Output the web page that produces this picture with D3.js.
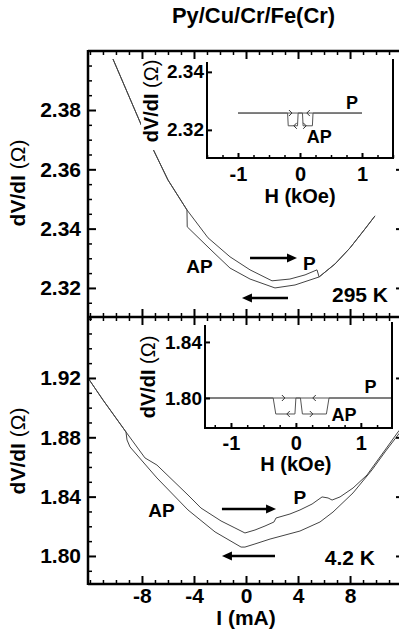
<!DOCTYPE html>
<html><head><meta charset="utf-8">
<script src="https://cdn.jsdelivr.net/npm/d3@7"></script>
<style>
body{margin:0;background:#fff}
svg{display:block}
text{font-family:"Liberation Sans",Arial,sans-serif;font-weight:bold;fill:#000}
</style>
</head><body>
<script>
// ---------- data ----------
const chartTitle = "Py/Cu/Cr/Fe(Cr)";
const currentTicks = [-8, -4, 0, 4, 8];
const fieldTicks = [-1, 0, 1];
const rtTicks = [2.32, 2.34, 2.36, 2.38];
const lowTicks = [1.80, 1.84, 1.88, 1.92];
const rtInsetTicks = [2.32, 2.34];
const lowInsetTicks = [1.80, 1.84];

// 295 K current sweeps
const rtCurrentP = [-10.23, -7.92, -7.08, -6.0, -4.54, -2.92, -1.23, 0.31, 2.0, 3.38, 4.54, 5.46, 5.62, 6.85, 8.0, 9.15, 9.92];
const rtResP     = [2.3972, 2.3736, 2.3662, 2.3564, 2.3463, 2.3369, 2.3305, 2.3261, 2.3224, 2.3230, 2.3244, 2.3261, 2.3237, 2.3281, 2.3335, 2.3399, 2.3443];
const rtCurrentAP = [-10.23, -7.92, -7.08, -6.0, -4.54, -4.52, -2.69, -1.23, 0.31, 2.23, 3.77, 5.62, 6.85, 8.0, 9.15, 9.92];
const rtResAP     = [2.3972, 2.3736, 2.3662, 2.3564, 2.3463, 2.3406, 2.3328, 2.3267, 2.3230, 2.3200, 2.3210, 2.3237, 2.3281, 2.3335, 2.3399, 2.3443];

// 4.2 K current sweeps
const lowCurrentP = [-12.15, -11.0, -9.23, -7.77, -6.85, -4.46, -3.46, -1.92, -0.85, -0.08, 0.69, 1.46, 2.15, 2.31, 3.38, 4.15, 5.08, 5.85, 6.31, 6.62, 7.23, 8.23, 9.31, 9.69, 10.69, 11.69, 12.15];
const lowResP     = [1.9200, 1.9052, 1.8836, 1.8661, 1.8613, 1.8411, 1.8323, 1.8236, 1.8189, 1.8155, 1.8175, 1.8202, 1.8229, 1.8256, 1.8283, 1.8310, 1.8350, 1.8398, 1.8391, 1.8377, 1.8398, 1.8458, 1.8546, 1.8593, 1.8714, 1.8836, 1.8883];
const lowCurrentAP = [-12.15, -11.0, -9.23, -9.15, -8.92, -6.85, -4.46, -2.38, -0.38, -0.08, 0.69, 1.85, 4.15, 5.69, 6.69, 8.23, 9.69, 10.69, 11.69, 12.15];
const lowResAP     = [1.9200, 1.9052, 1.8836, 1.8782, 1.8735, 1.8526, 1.8310, 1.8162, 1.8060, 1.8060, 1.8081, 1.8114, 1.8168, 1.8229, 1.8296, 1.8425, 1.8580, 1.8701, 1.8816, 1.8863];

// insets: field sweeps
const rtFieldUp   = [-1, 0.04, 0.05, 0.20, 0.21, 1];
const rtFieldDown = [1, -0.03, -0.04, -0.19, -0.20, -1];
const rtFieldRes  = [2.3258, 2.3258, 2.3214, 2.3214, 2.3258, 2.3258];
const lowFieldUp   = [-1.4, 0.07, 0.10, 0.47, 0.51, 1.48];
const lowFieldDown = [1.48, 0.0, -0.015, -0.31, -0.35, -1.4];
const lowFieldRes  = [1.80, 1.80, 1.7886, 1.7886, 1.80, 1.80];

// ---------- layout ----------
const W = 399, H = 633;
const svg = d3.select("body").append("svg").attr("width", W).attr("height", H);
const ink = "#000";
const line = "#444";

const x = d3.scaleLinear().domain([-12.15, 12.15]).range([88, 404]);
const yTop = d3.scaleLinear().domain([2.3102, 2.3999]).range([317, 51]);
const yBot = d3.scaleLinear().domain([1.7811, 1.9611]).range([584, 317]);

const xInT = d3.scaleLinear().domain([-1.5, 1.5]).range([207, 393]);
const yInT = d3.scaleLinear().domain([2.3103, 2.3434]).range([158, 62]);
const xInB = d3.scaleLinear().domain([-1.4, 1.48]).range([205, 392]);
const yInB = d3.scaleLinear().domain([1.7786, 1.8521]).range([428, 325]);

function zip(a, b) { return a.map((v, i) => [v, b[i]]); }
function drawCurve(g, xs, ys, X, Y, color, w) {
  g.append("path").datum(zip(xs, ys))
    .attr("d", d3.line().x(d => X(d[0])).y(d => Y(d[1])))
    .attr("fill", "none").attr("stroke", color).attr("stroke-width", w);
}
function styleAxis(sel, w) {
  sel.select(".domain").remove();
  sel.selectAll(".tick line").attr("stroke", ink).attr("stroke-width", w);
  sel.selectAll(".tick text").attr("fill", ink).style("font-family", '"Liberation Sans",Arial,sans-serif').style("font-weight", "bold");
}
function minorVals(lo, hi, step, majors) {
  const out = [];
  for (let v = Math.ceil(lo / step - 1e-9) * step; v <= hi + 1e-9; v += step) {
    const r = Math.round(v * 10000) / 10000;
    if (!majors.some(m => Math.abs(m - r) < 1e-6)) out.push(r);
  }
  return out;
}

// ---------- main curves ----------
const gc = svg.append("g");
drawCurve(gc, rtCurrentP, rtResP, x, yTop, line, 1);
drawCurve(gc, rtCurrentAP, rtResAP, x, yTop, line, 1);
drawCurve(gc, lowCurrentP, lowResP, x, yBot, line, 1);
drawCurve(gc, lowCurrentAP, lowResAP, x, yBot, line, 1);

// ---------- main axes ----------
const xMinor = minorVals(-12, 12, 1, currentTicks);
function xAxes(y, orientTop, labels) {
  const ax = orientTop ? d3.axisTop(x) : d3.axisBottom(x);
  const g1 = svg.append("g").attr("transform", `translate(0,${y})`)
    .call(ax.tickValues(currentTicks).tickSize(-8).tickPadding(6).tickFormat(labels ? (d => String(d)) : ""));
  styleAxis(g1, 2);
  if (labels) g1.selectAll(".tick text").style("font-size", "21px").attr("y", 19).attr("dy", 0);
  const ax2 = orientTop ? d3.axisTop(x) : d3.axisBottom(x);
  styleAxis(svg.append("g").attr("transform", `translate(0,${y})`)
    .call(ax2.tickValues(xMinor).tickSize(-4).tickFormat("")), 1.5);
}
xAxes(51, true, false);
xAxes(317, false, false);
xAxes(317, true, false);
xAxes(584, false, true);

function yAxes(Y, ticks, minorStep, lo, hi) {
  const gl = svg.append("g").attr("transform", "translate(88,0)")
    .call(d3.axisLeft(Y).tickValues(ticks).tickSize(-8).tickPadding(7).tickFormat(d3.format(".2f")));
  styleAxis(gl, 2);
  gl.selectAll(".tick text").style("font-size", "21px");
  const mv = minorVals(lo, hi, minorStep, ticks);
  styleAxis(svg.append("g").attr("transform", "translate(88,0)")
    .call(d3.axisLeft(Y).tickValues(mv).tickSize(-4).tickFormat("")), 1.5);
  styleAxis(svg.append("g").attr("transform", "translate(404,0)")
    .call(d3.axisRight(Y).tickValues(ticks).tickSize(-8).tickFormat("")), 2);
  styleAxis(svg.append("g").attr("transform", "translate(404,0)")
    .call(d3.axisRight(Y).tickValues(mv).tickSize(-4).tickFormat("")), 1.5);
}
yAxes(yTop, rtTicks, 0.005, 2.311, 2.399);
yAxes(yBot, lowTicks, 0.01, 1.782, 1.96);

// frame
const fr = svg.append("g").attr("stroke", ink).attr("fill", "none");
fr.append("line").attr("x1", 88).attr("x2", 404).attr("y1", 51).attr("y2", 51).attr("stroke-width", 2.5);
fr.append("line").attr("x1", 88).attr("x2", 404).attr("y1", 317).attr("y2", 317).attr("stroke-width", 2.5);
fr.append("line").attr("x1", 88).attr("x2", 404).attr("y1", 584).attr("y2", 584).attr("stroke-width", 2.5);
fr.append("line").attr("x1", 88).attr("x2", 88).attr("y1", 50).attr("y2", 585).attr("stroke-width", 2.5);

// ---------- main annotations ----------
function bigArrow(X, Y, x1, x2, yv) {
  const a = X(x1), b = X(x2), yy = Y(yv), dir = Math.sign(b - a);
  svg.append("line").attr("x1", a).attr("x2", b - dir * 8).attr("y1", yy).attr("y2", yy)
    .attr("stroke", ink).attr("stroke-width", 2.6);
  svg.append("path").attr("d", `M${b},${yy} L${b - dir * 10},${yy - 4.5} L${b - dir * 10},${yy + 4.5} Z`).attr("fill", ink);
}
bigArrow(x, yTop, 0.31, 3.92, 2.3301);
bigArrow(x, yTop, 3.23, -0.31, 2.3166);
bigArrow(x, yBot, -1.85, 2.31, 1.8317);
bigArrow(x, yBot, 2.23, -1.85, 1.8000);

function label(txt, px, py, size, anchor) {
  return svg.append("text").attr("x", px).attr("y", py).attr("text-anchor", anchor || "middle")
    .style("font-size", size + "px").text(txt);
}
label("AP", x(-3.58), yTop(2.3251), 19);
label("P", x(4.88), yTop(2.3261), 19);
label("295 K", x(10.92), yTop(2.3153), 21, "end");
label("AP", x(-6.5), yBot(1.8263), 19);
label("P", x(4.15), yBot(1.8350), 19);
label("4.2 K", x(9.92), yBot(1.7939), 21, "end");

label(chartTitle, 253.5, 23, 22).attr("textLength", 163).attr("lengthAdjust", "spacingAndGlyphs");
label("I (mA)", x(0), 625, 21);

function yLabel(cx, cy, size) {
  const t = svg.append("text").attr("transform", `translate(${cx},${cy}) rotate(-90)`)
    .attr("text-anchor", "middle").style("font-size", size + "px");
  t.append("tspan").text("dV/dI ");
  t.append("tspan").style("font-weight", "normal").text("(\u03A9)");
}
yLabel(25, 183, 21);
yLabel(25, 451, 21);

// ---------- insets ----------
svg.append("rect").attr("x", 141).attr("y", 60).attr("width", 258).attr("height", 90).attr("fill", "#fff");

function inset(X, Y, yt, upF, downF, res, left, right, top, bottom, arrows, pLab, apLab, labelBase, hBase, ylab) {
  const g = svg.append("g");
  drawCurve(g, upF, res, X, Y, "#555", 1);
  drawCurve(g, downF, res, X, Y, "#555", 1);
  arrows.forEach(a => {
    const px = X(a[0]), py = Y(a[1]), d = a[2];
    g.append("path").attr("d", `M${px - d * 3},${py - 3} L${px},${py} L${px - d * 3},${py + 3}`)
      .attr("fill", "none").attr("stroke", "#333").attr("stroke-width", 1);
  });
  const gb = svg.append("g").attr("transform", `translate(0,${bottom})`)
    .call(d3.axisBottom(X).tickValues(fieldTicks).tickSize(-5).tickPadding(0).tickFormat(d => String(d)));
  styleAxis(gb, 2);
  gb.selectAll(".tick text").style("font-size", "20px").attr("y", labelBase - bottom).attr("dy", 0);
  const fmin = minorVals(X.domain()[0], X.domain()[1], 0.25, fieldTicks);
  styleAxis(svg.append("g").attr("transform", `translate(0,${bottom})`)
    .call(d3.axisBottom(X).tickValues(fmin).tickSize(-3).tickFormat("")), 1.5);
  const gl = svg.append("g").attr("transform", `translate(${left},0)`)
    .call(d3.axisLeft(Y).tickValues(yt).tickSize(-5).tickPadding(3).tickFormat(d3.format(".2f")));
  styleAxis(gl, 2);
  gl.selectAll(".tick text").style("font-size", "19px");
  const fr2 = svg.append("g").attr("stroke", ink).attr("stroke-width", 2);
  fr2.append("line").attr("x1", left).attr("x2", left).attr("y1", top).attr("y2", bottom + 1);
  fr2.append("line").attr("x1", right).attr("x2", right).attr("y1", top - 3).attr("y2", bottom + 1);
  fr2.append("line").attr("x1", left).attr("x2", right).attr("y1", bottom).attr("y2", bottom);
  label("P", X(pLab[0]), Y(pLab[1]), 18);
  label("AP", X(apLab[0]), Y(apLab[1]), 18);
  label("H (kOe)", X(0), hBase, 20);
  yLabel(ylab[0], ylab[1], 20);
}
inset(xInT, yInT, rtInsetTicks, rtFieldUp, rtFieldDown, rtFieldRes, 207, 393, 62, 158,
  [[-0.13, 2.3258, 1], [0.11, 2.3258, -1], [-0.10, 2.3214, -1], [0.10, 2.3214, 1]],
  [0.84, 2.3272], [0.31, 2.3155], 181, 203, [158, 101]);
inset(xInB, yInB, lowInsetTicks, lowFieldUp, lowFieldDown, lowFieldRes, 205, 392, 325, 428,
  [[-0.17, 1.80, 1], [0.26, 1.80, -1], [-0.14, 1.7886, -1], [0.26, 1.7886, 1]],
  [1.15, 1.8036], [0.74, 1.7836], 450, 471, [155, 377]);
</script>
</body></html>
